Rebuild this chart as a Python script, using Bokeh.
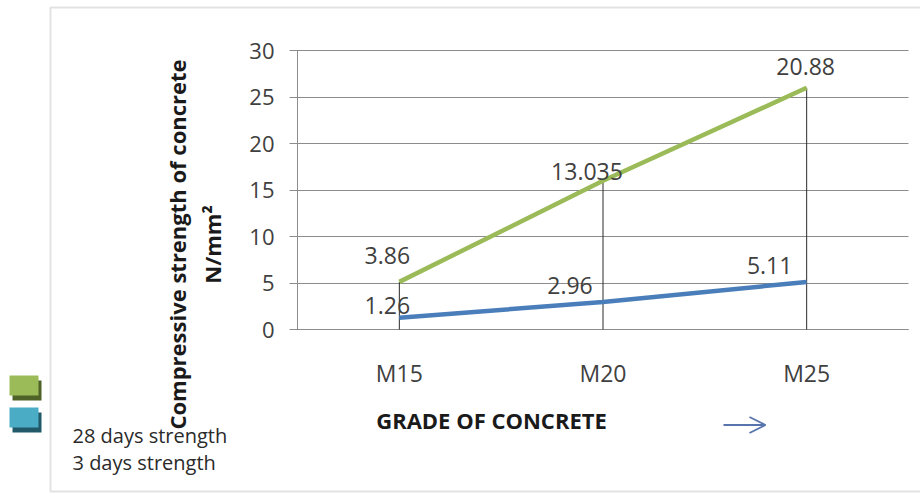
import math
from bokeh.plotting import figure
from bokeh.models import (Range1d, Label, BoxAnnotation, Arrow, OpenHead, FixedTicker)
from bokeh.core.properties import value
from bokeh.embed import file_html
from bokeh.resources import INLINE

# ---- data ----
categories = ["M15", "M20", "M25"]
days3 = [1.26, 2.96, 5.11]
days28 = [3.86, 13.035, 20.88]
y_ticks = [0, 5, 10, 15, 20, 25, 30]
series_names = ["28 days strength", "3 days strength"]
y_title_1 = "Compressive strength of concrete"
y_title_2 = "N/mm\u00b2"
x_title = "GRADE OF CONCRETE"

# stacked line (Excel stacked-line chart): 28-day series is drawn on top of 3-day series
xs = list(range(len(categories)))
stack_top = [a + b for a, b in zip(days3, days28)]

# ---- layout / style (pixels) ----
W, H = 920, 493
FL, FR, FT, FB = 297, 908, 50, 329      # plot-area edges on the page
g_dx = [-12, -16, -1]                    # data-label offsets, 28-day series
g_dy = [-26, -9, -21]
b_dx = [-12, -33, -37]                   # data-label offsets, 3-day series
b_dy = [-12, -16, -16]

GREEN = "#9BBB59"
BLUE = "#4A7EBB"
GRID = "#8c8c8c"
TXT = "#404040"
FONT = "Open Sans"

# map the whole canvas so that the plot area sits at FL..FR / FT..FB
n = len(categories)
ux = (FR - FL) / n
y_max = y_ticks[-1]
uy = (FB - FT) / y_max
x_range = Range1d(-0.5 - FL / ux, n - 0.5 + (W - FR) / ux)
y_range = Range1d(-(H - FB) / uy, y_max + FT / uy)

p = figure(width=W, height=H, x_range=x_range, y_range=y_range,
           output_backend="svg", toolbar_location=None, min_border=0)
p.min_border_left = p.min_border_right = p.min_border_top = p.min_border_bottom = 0
p.outline_line_color = None
p.background_fill_color = "white"
p.border_fill_color = "white"
p.xgrid.visible = False
p.ygrid.visible = False

# y axis at the left edge of the category band; inward ticks act as gridlines
ya = p.yaxis[0]
ya.fixed_location = -0.5
ya.bounds = (0, y_max)
ya.ticker = FixedTicker(ticks=y_ticks)
ya.axis_line_color = GRID
ya.major_tick_line_color = GRID
ya.major_tick_out = 8
ya.major_tick_in = FR - FL
ya.minor_tick_line_color = None
ya.major_label_standoff = 15
ya.major_label_text_font = FONT
ya.major_label_text_font_size = "22px"
ya.major_label_text_color = TXT
ya.level = "underlay"

xa = p.xaxis[0]
xa.fixed_location = 0
xa.bounds = (-0.5, n - 0.5)
xa.ticker = FixedTicker(ticks=xs)
xa.major_label_overrides = {i: c for i, c in zip(xs, categories)}
xa.axis_line_color = GRID
xa.major_tick_line_color = None
xa.major_tick_out = 0
xa.major_tick_in = 0
xa.minor_tick_line_color = None
xa.major_label_standoff = 27
xa.major_label_text_font = FONT
xa.major_label_text_font_size = "23px"
xa.major_label_text_color = TXT
xa.level = "underlay"

# drop lines
p.segment(x0=xs, y0=[0] * n, x1=xs, y1=stack_top, line_color="#2a2a2a", line_width=1)

# series lines
p.line(xs, stack_top, line_color=GREEN, line_width=4.5)
p.line(xs, days3, line_color=BLUE, line_width=4.5)

# data labels
p.text(x=xs, y=stack_top, text=[str(v) for v in days28],
       x_offset=g_dx, y_offset=g_dy, text_align="center", text_baseline="middle",
       text_font=value(FONT), text_font_size="23px", text_color=TXT)
p.text(x=xs, y=days3, text=[str(v) for v in days3],
       x_offset=b_dx, y_offset=b_dy, text_align="center", text_baseline="middle",
       text_font=value(FONT), text_font_size="23px", text_color=TXT)


def sy(y):
    # page y (top-down) -> screen units (bottom-up)
    return H - y


# axis titles
for txt, cx in [(y_title_1, 176), (y_title_2, 211)]:
    p.add_layout(Label(x=cx, y=sy(244), x_units="screen", y_units="screen", text=txt,
                       angle=math.pi / 2, text_align="center", text_baseline="middle",
                       text_font=FONT, text_font_style="bold", text_font_size="22px",
                       text_color="#1a1a1a"))
p.add_layout(Label(x=491, y=sy(419), x_units="screen", y_units="screen",
                   text=x_title, text_align="center", text_baseline="middle",
                   text_font=FONT, text_font_style="bold", text_font_size="22px",
                   text_color="#1a1a1a"))

# arrow
p.add_layout(Arrow(x_start=723, y_start=sy(424.5), x_end=765, y_end=sy(424.5),
                   start_units="screen", end_units="screen",
                   line_color="#5874AD", line_width=1.8,
                   end=OpenHead(size=16, line_color="#5874AD", line_width=1.8)))

# legend swatches (with shadow) + texts
for i, col, shadow in [(0, GREEN, "#4F6228"), (1, "#4BACC6", "#215968")]:
    top = 375 + i * 32
    p.add_layout(BoxAnnotation(left=12, right=41, top=sy(top + 5), bottom=sy(top + 25),
                               left_units="screen", right_units="screen",
                               top_units="screen", bottom_units="screen",
                               fill_color=shadow, fill_alpha=1, line_color=None))
    p.add_layout(BoxAnnotation(left=9, right=38, top=sy(top), bottom=sy(top + 20),
                               left_units="screen", right_units="screen",
                               top_units="screen", bottom_units="screen",
                               fill_color=col, fill_alpha=1, line_color=None))
for i, name in enumerate(series_names):
    p.add_layout(Label(x=72, y=sy(435 + i * 26.5), x_units="screen", y_units="screen",
                       text=name, text_align="left", text_baseline="middle",
                       text_font=FONT, text_font_size="20px", text_color="#2a2a2a"))

# chart-area border
p.add_layout(BoxAnnotation(left=50, right=W + 10, top=sy(7), bottom=sy(491),
                           left_units="screen", right_units="screen",
                           top_units="screen", bottom_units="screen",
                           fill_alpha=0, line_color="#a0a0a0", line_width=2))

open("out.html", "w").write(file_html(p, INLINE))
